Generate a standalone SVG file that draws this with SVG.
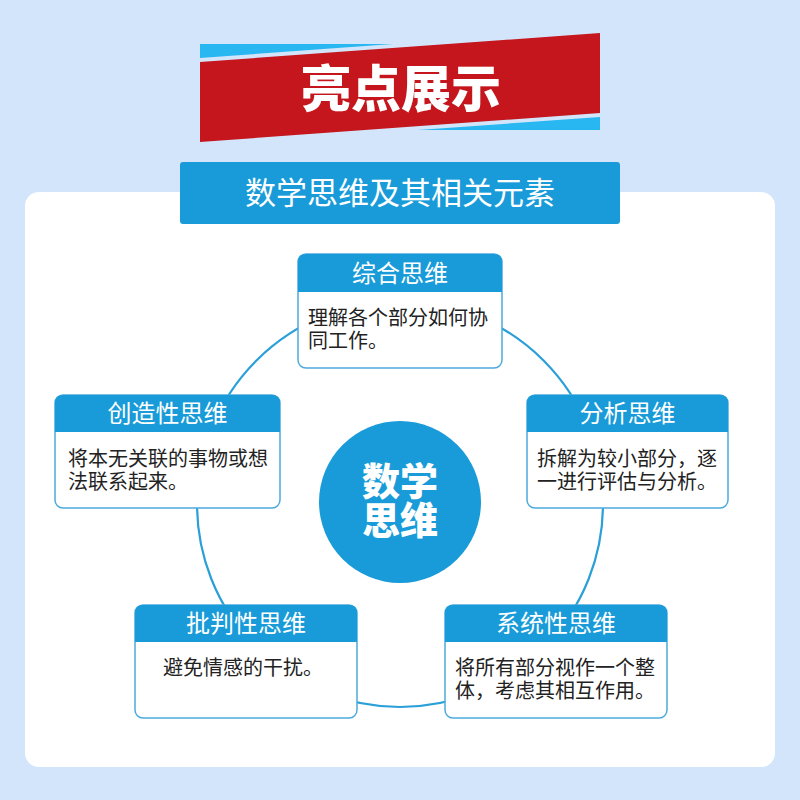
<svg xmlns="http://www.w3.org/2000/svg" width="800" height="800" viewBox="0 0 800 800">
<style>
.box{fill:#ffffff;stroke:#4eaadd;stroke-width:1.5}
.hdr{fill:#189bd8}
.ht{font-family:"Noto Sans CJK SC","Noto Sans",sans-serif;font-size:24px;fill:#ffffff;text-anchor:middle}
.bt{font-family:"Noto Sans CJK SC","Noto Sans",sans-serif;font-size:20px;fill:#222222}
.ring{fill:none;stroke:#2a9fd8;stroke-width:2.2}
</style>
<rect x="0" y="0" width="800" height="800" fill="#d3e5fb"/>
<rect x="25" y="192" width="750" height="575" rx="14" fill="#ffffff"/>
<g id="banner">
<polygon points="200,44 393,44 200,58" fill="#29b7f1"/>
<polygon points="600,117 600,130 418,130" fill="#29b7f1"/>
<polygon points="200,62 600,33 600,113 200,142" fill="#c4161c"/>
<text x="401" y="107" text-anchor="middle" font-family="'Noto Sans CJK SC','Noto Sans',sans-serif" font-size="50" font-weight="900" fill="#ffffff">亮点展示</text>
</g>
<g id="subtitle">
<rect x="180" y="162" width="440" height="62" rx="3" fill="#189bd8"/>
<text x="400" y="204" text-anchor="middle" font-family="'Noto Sans CJK SC','Noto Sans',sans-serif" font-size="31" fill="#ffffff">数学思维及其相关元素</text>
</g>
<g id="connectors">
<circle class="ring" cx="400" cy="504" r="203"/>
</g>
<g id="center">
<circle cx="400" cy="502" r="81" fill="#189bd8"/>
<text x="400" y="495" text-anchor="middle" font-family="'Noto Sans CJK SC','Noto Sans',sans-serif" font-size="38" font-weight="900" fill="#ffffff">数学</text>
<text x="400" y="534" text-anchor="middle" font-family="'Noto Sans CJK SC','Noto Sans',sans-serif" font-size="38" font-weight="900" fill="#ffffff">思维</text>
</g>
<g id="node-synthesis">
<rect class="box" x="298" y="254" width="204" height="114" rx="8"/>
<path class="hdr" d="M298,292 V262 Q298,254 306,254 H494 Q502,254 502,262 V292 Z"/>
<text class="ht" x="400" y="282">综合思维</text>
<text class="bt" x="308" y="325">理解各个部分如何协</text>
<text class="bt" x="308" y="348">同工作。</text>
</g>
<g id="node-creative">
<rect class="box" x="55" y="395" width="225" height="113" rx="8"/>
<path class="hdr" d="M55,432 V403 Q55,395 63,395 H272 Q280,395 280,403 V432 Z"/>
<text class="ht" x="167.5" y="422">创造性思维</text>
<text class="bt" x="68" y="466">将本无关联的事物或想</text>
<text class="bt" x="68" y="489">法联系起来。</text>
</g>
<g id="node-analysis">
<rect class="box" x="527" y="395" width="201" height="113" rx="8"/>
<path class="hdr" d="M527,432 V403 Q527,395 535,395 H720 Q728,395 728,403 V432 Z"/>
<text class="ht" x="627.5" y="422">分析思维</text>
<text class="bt" x="537" y="466">拆解为较小部分，逐</text>
<text class="bt" x="537" y="489">一进行评估与分析。</text>
</g>
<g id="node-critical">
<rect class="box" x="135" y="605" width="222" height="113" rx="8"/>
<path class="hdr" d="M135,642 V613 Q135,605 143,605 H349 Q357,605 357,613 V642 Z"/>
<text class="ht" x="246" y="632">批判性思维</text>
<text class="bt" x="243" y="675" text-anchor="middle">避免情感的干扰。</text>
</g>
<g id="node-systemic">
<rect class="box" x="445" y="605" width="222" height="113" rx="8"/>
<path class="hdr" d="M445,642 V613 Q445,605 453,605 H659 Q667,605 667,613 V642 Z"/>
<text class="ht" x="556" y="632">系统性思维</text>
<text class="bt" x="455" y="675">将所有部分视作一个整</text>
<text class="bt" x="455" y="698">体，考虑其相互作用。</text>
</g>
</svg>
